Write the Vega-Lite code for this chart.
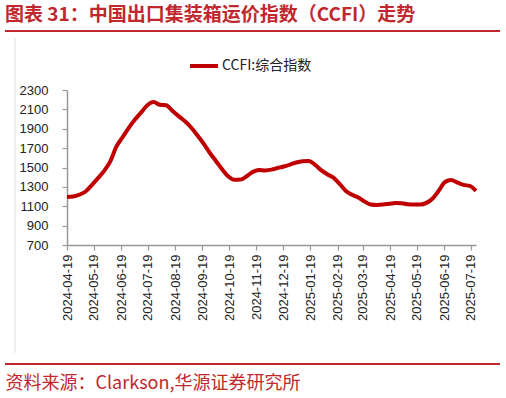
{
  "$schema": "https://vega.github.io/schema/vega-lite/v6.json",
  "width": 409,
  "height": 155,
  "autosize": {"type": "none"},
  "padding": {"left": 67, "top": 90, "right": 30, "bottom": 153},
  "background": "white",
  "title": {
    "text": "图表 31：中国出口集装箱运价指数（CCFI）走势",
    "anchor": "start",
    "frame": "group",
    "dx": -62,
    "dy": 44,
    "offset": 40,
    "color": "#C0282D",
    "font": "Noto Sans CJK SC",
    "fontSize": 19,
    "fontWeight": "bold",
    "baseline": "middle"
  },
  "config": {
    "view": {"stroke": null},
    "axis": {
      "domainColor": "#999999",
      "domainWidth": 1.5,
      "tickColor": "#999999",
      "tickWidth": 1.2,
      "tickSize": 5,
      "labelColor": "#222222",
      "labelFont": "Liberation Sans",
      "labelFontSize": 13,
      "grid": false
    }
  },
  "layer": [
    {
      "data": {
        "values": [
          {"date": "2024-04-19", "value": 1195},
          {"date": "2024-04-26", "value": 1200},
          {"date": "2024-05-03", "value": 1220},
          {"date": "2024-05-10", "value": 1252},
          {"date": "2024-05-17", "value": 1318},
          {"date": "2024-05-24", "value": 1390},
          {"date": "2024-05-31", "value": 1465},
          {"date": "2024-06-07", "value": 1565},
          {"date": "2024-06-14", "value": 1720},
          {"date": "2024-06-21", "value": 1815},
          {"date": "2024-06-28", "value": 1912},
          {"date": "2024-07-05", "value": 1997},
          {"date": "2024-07-12", "value": 2072},
          {"date": "2024-07-19", "value": 2145},
          {"date": "2024-07-26", "value": 2175},
          {"date": "2024-08-02", "value": 2147},
          {"date": "2024-08-09", "value": 2143},
          {"date": "2024-08-16", "value": 2085},
          {"date": "2024-08-23", "value": 2030},
          {"date": "2024-08-30", "value": 1980},
          {"date": "2024-09-06", "value": 1915},
          {"date": "2024-09-13", "value": 1835},
          {"date": "2024-09-20", "value": 1750},
          {"date": "2024-09-27", "value": 1655},
          {"date": "2024-10-04", "value": 1570},
          {"date": "2024-10-11", "value": 1485},
          {"date": "2024-10-18", "value": 1410},
          {"date": "2024-10-25", "value": 1373},
          {"date": "2024-11-01", "value": 1375},
          {"date": "2024-11-08", "value": 1410},
          {"date": "2024-11-15", "value": 1455},
          {"date": "2024-11-22", "value": 1475},
          {"date": "2024-11-29", "value": 1470},
          {"date": "2024-12-06", "value": 1478},
          {"date": "2024-12-13", "value": 1495},
          {"date": "2024-12-20", "value": 1510},
          {"date": "2024-12-27", "value": 1530},
          {"date": "2025-01-03", "value": 1552},
          {"date": "2025-01-10", "value": 1565},
          {"date": "2025-01-17", "value": 1568},
          {"date": "2025-01-24", "value": 1530},
          {"date": "2025-01-31", "value": 1473},
          {"date": "2025-02-07", "value": 1430},
          {"date": "2025-02-14", "value": 1395},
          {"date": "2025-02-21", "value": 1330},
          {"date": "2025-02-28", "value": 1258},
          {"date": "2025-03-07", "value": 1218},
          {"date": "2025-03-14", "value": 1190},
          {"date": "2025-03-21", "value": 1150},
          {"date": "2025-03-28", "value": 1118},
          {"date": "2025-04-04", "value": 1113},
          {"date": "2025-04-11", "value": 1117},
          {"date": "2025-04-18", "value": 1125},
          {"date": "2025-04-25", "value": 1133},
          {"date": "2025-05-02", "value": 1132},
          {"date": "2025-05-09", "value": 1120},
          {"date": "2025-05-16", "value": 1118},
          {"date": "2025-05-23", "value": 1118},
          {"date": "2025-05-30", "value": 1135},
          {"date": "2025-06-06", "value": 1180},
          {"date": "2025-06-13", "value": 1262},
          {"date": "2025-06-20", "value": 1350},
          {"date": "2025-06-27", "value": 1370},
          {"date": "2025-07-04", "value": 1345},
          {"date": "2025-07-11", "value": 1320},
          {"date": "2025-07-18", "value": 1310},
          {"date": "2025-07-25", "value": 1258}
        ]
      },
      "mark": {"type": "line", "strokeWidth": 4, "interpolate": "monotone"},
      "encoding": {
        "x": {
          "field": "date",
          "type": "temporal",
          "scale": {
            "type": "utc",
            "domain": [
              {"year": 2024, "month": 4, "date": 19, "utc": true},
              {"year": 2025, "month": 7, "date": 25, "utc": true}
            ]
          },
          "axis": {
            "values": [
              {"year": 2024, "month": 4, "date": 19, "utc": true},
              {"year": 2024, "month": 5, "date": 19, "utc": true},
              {"year": 2024, "month": 6, "date": 19, "utc": true},
              {"year": 2024, "month": 7, "date": 19, "utc": true},
              {"year": 2024, "month": 8, "date": 19, "utc": true},
              {"year": 2024, "month": 9, "date": 19, "utc": true},
              {"year": 2024, "month": 10, "date": 19, "utc": true},
              {"year": 2024, "month": 11, "date": 19, "utc": true},
              {"year": 2024, "month": 12, "date": 19, "utc": true},
              {"year": 2025, "month": 1, "date": 19, "utc": true},
              {"year": 2025, "month": 2, "date": 19, "utc": true},
              {"year": 2025, "month": 3, "date": 19, "utc": true},
              {"year": 2025, "month": 4, "date": 19, "utc": true},
              {"year": 2025, "month": 5, "date": 19, "utc": true},
              {"year": 2025, "month": 6, "date": 19, "utc": true},
              {"year": 2025, "month": 7, "date": 19, "utc": true}
            ],
            "format": "%Y-%m-%d",
            "labelAngle": -90,
            "labelPadding": 4,
            "title": "资料来源：Clarkson,华源证券研究所",
            "titleX": -62,
            "titleY": 138,
            "titleAlign": "left",
            "titleBaseline": "middle",
            "titleAnchor": "start",
            "titleColor": "#C0282D",
            "titleFont": "Noto Sans CJK SC",
            "titleFontSize": 18,
            "titleFontWeight": "normal"
          }
        },
        "y": {
          "field": "value",
          "type": "quantitative",
          "scale": {"domain": [700, 2300], "nice": false, "zero": false},
          "axis": {
            "values": [700, 900, 1100, 1300, 1500, 1700, 1900, 2100, 2300],
            "format": "d",
            "labelPadding": 14,
            "title": null
          }
        },
        "color": {
          "datum": "CCFI:综合指数",
          "type": "nominal",
          "scale": {"range": ["#C00000"]},
          "legend": {
            "title": null,
            "orient": "none",
            "legendX": 121,
            "legendY": -40,
            "symbolType": "stroke",
            "symbolSize": 784,
            "symbolStrokeWidth": 4,
            "labelFont": "Noto Sans CJK SC",
            "labelFontSize": 14,
            "labelColor": "#222222",
            "labelOffset": 2
          }
        }
      }
    },
    {
      "data": {"values": [{}]},
      "mark": {"type": "rule", "color": "#C0282D", "strokeWidth": 2},
      "encoding": {"x": {"value": -62}, "x2": {"value": 433}, "y": {"value": -59}}
    },
    {
      "data": {"values": [{}]},
      "mark": {"type": "rule", "color": "#C0282D", "strokeWidth": 2},
      "encoding": {"x": {"value": -62}, "x2": {"value": 433}, "y": {"value": 274}}
    },
    {
      "data": {"values": [{}]},
      "mark": {"type": "rule", "color": "#DDDDDD", "strokeWidth": 1},
      "encoding": {"x": {"value": -52}, "y": {"value": -52}, "y2": {"value": 263}}
    }
  ]
}
